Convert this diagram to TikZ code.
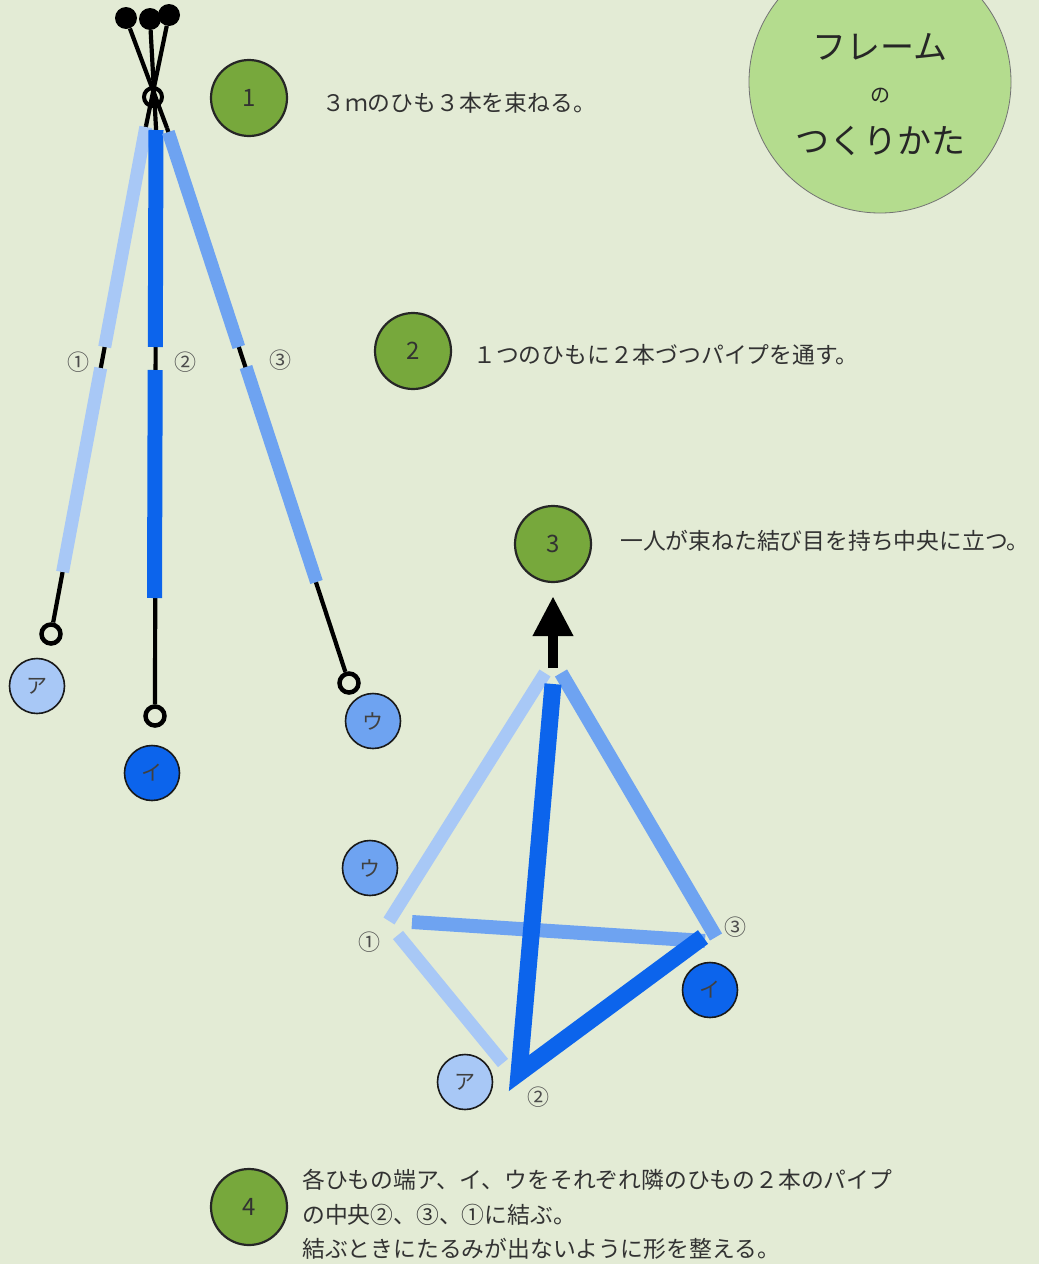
\documentclass[tikz,border=0pt]{standalone}
\usepackage{fontspec}
\newfontfamily\jp{Noto Sans CJK JP}
\usetikzlibrary{arrows.meta,calc}
\definecolor{bg}{RGB}{227,235,213}
\definecolor{stepgreen}{RGB}{119,168,60}
\definecolor{titlegreen}{RGB}{180,220,142}
\definecolor{pipelight}{RGB}{168,200,246}
\definecolor{pipemid}{RGB}{110,163,241}
\definecolor{pipedark}{RGB}{12,100,236}
\definecolor{ink}{RGB}{50,50,50}
\begin{document}
\begin{tikzpicture}[x=1pt,y=-1pt,
  stepcirc/.style={circle, draw=black!85, line width=2.2pt, fill=stepgreen,
    minimum size=76pt, inner sep=0pt, font=\jp\fontsize{24}{28}\selectfont, text=ink},
  desc/.style={anchor=west, inner sep=0pt, font=\jp\fontsize{22.8}{27}\selectfont, text=ink},
  lettercirc/.style={circle, draw=black!90, line width=1.6pt, minimum size=55pt,
    inner sep=0pt, font=\jp\fontsize{21}{23}\selectfont, text=black!75},
  ring/.style={circle, draw=black, line width=4.5pt, fill=bg, minimum size=19pt, inner sep=0pt},
  ball/.style={circle, fill=black, minimum size=22pt, inner sep=0pt},
  numlabel/.style={inner sep=0pt, font=\jp\fontsize{22}{24}\selectfont, text=black!70},
  cord/.style={line width=4.2pt, black},
  pipe/.style={line width=13pt, line cap=butt},
  fatpipe/.style={line width=17pt, line cap=butt, line join=miter}
]
\useasboundingbox (0,0) rectangle (1039,1264);
\fill[bg] (0,0) rectangle (1039,1264);

% ---- title ----
\node[circle, draw=black!55, line width=0.8pt, fill=titlegreen, minimum size=262pt, inner sep=0pt]
  (title) at (880,82) {};
\node[inner sep=0pt, font=\jp\fontsize{34}{36}\selectfont, text=black!85] (t1) at (880,47) {フレーム};
\node[inner sep=0pt, font=\jp\fontsize{20}{22}\selectfont, text=black!85] (t2) at (880,96) {の};
\node[inner sep=0pt, font=\jp\fontsize{34}{36}\selectfont, text=black!85] (t3) at (880,141) {つくりかた};

% ---- steps ----
\node[stepcirc] (s1) at (249,98) {1};
\node[desc] (d1) at (322,103) {３ｍのひも３本を束ねる。};
\node[stepcirc] (s2) at (413,351) {2};
\node[desc] (d2) at (473,355) {１つのひもに２本づつパイプを通す。};
\node[stepcirc] (s3) at (553,544) {3};
\node[desc] (d3) at (620,541) {一人が束ねた結び目を持ち中央に立つ。};
\node[stepcirc] (s4) at (249,1207) {4};
\node[desc] (d4a) at (302,1180) {各ひもの端ア、イ、ウをそれぞれ隣のひもの２本のパイプ};
\node[desc] (d4b) at (302,1215) {の中央②、③、①に結ぶ。};
\node[desc] (d4c) at (302,1249) {結ぶときにたるみが出ないように形を整える。};

% ---- bundled cords ----
\coordinate (top1) at (146,126);
\coordinate (top2) at (156,128);
\coordinate (top3) at (167,128);
\node[ball] (b1) at (126,18) {};
\node[ball] (b2) at (150,19) {};
\node[ball] (b3) at (169,15) {};
\draw[cord] (b1) -- (top3);
\draw[cord] (b2) -- (top2);
\draw[cord] (b3) -- (top1);
\node[circle, draw=black, line width=4pt, minimum size=18pt, inner sep=0pt] (knot) at (153,97) {};

\node[ring] (ra) at (51,634) {};
\node[ring] (ri) at (155,716) {};
\node[ring] (ru) at (349,683) {};
\draw[cord] (top1) -- (ra);
\draw[cord] (top2) -- (ri);
\draw[cord] (top3) -- (ru);

% pipes threaded on each cord
\draw[pipe, pipelight] (145.8,127) -- (104.7,347);
\draw[pipe, pipelight] (100.7,368) -- (62.6,572);
\draw[pipe, line width=15pt, pipedark] (156,130) -- (155.3,347);
\draw[pipe, line width=15pt, pipedark] (155.2,370) -- (154.5,598);
\draw[pipe, pipemid] (168.3,132) -- (238.8,347);
\draw[pipe, pipemid] (246.0,367) -- (316.5,582);

\node[numlabel] (n1) at (78,362) {①};
\node[numlabel] (n2) at (185,362) {②};
\node[numlabel] (n3) at (280,360) {③};

\node[lettercirc, fill=pipelight] (la) at (37,686) {ア};
\node[lettercirc, fill=pipedark] (li) at (152,773) {イ};
\node[lettercirc, fill=pipemid] (lu) at (373,721) {ウ};

% ---- assembled frame ----
\coordinate (apex) at (553,668);
\draw[line width=10pt, -{Triangle[width=38pt,length=40pt]}, shorten >=13pt] (apex) -- (s3.south);

\draw[pipe, pipelight] (545,673) -- (389,921);
\draw[pipe, pipelight] (398,935) -- (503,1063);
\draw[pipe, line width=14pt, pipemid] (561,673) -- (716,937);
\draw[pipe, line width=14pt, pipemid] (412,922) -- (705,941);
\draw[fatpipe, pipedark] (553,684) -- (519,1073) -- (703,937);

\node[numlabel] (m1) at (369,942) {①};
\node[numlabel] (m2) at (538,1097) {②};
\node[numlabel] (m3) at (735,927) {③};

\node[lettercirc, fill=pipemid] (lu2) at (370,868) {ウ};
\node[lettercirc, fill=pipedark] (li2) at (710,990) {イ};
\node[lettercirc, fill=pipelight] (la2) at (465,1082) {ア};
\end{tikzpicture}
\end{document}
